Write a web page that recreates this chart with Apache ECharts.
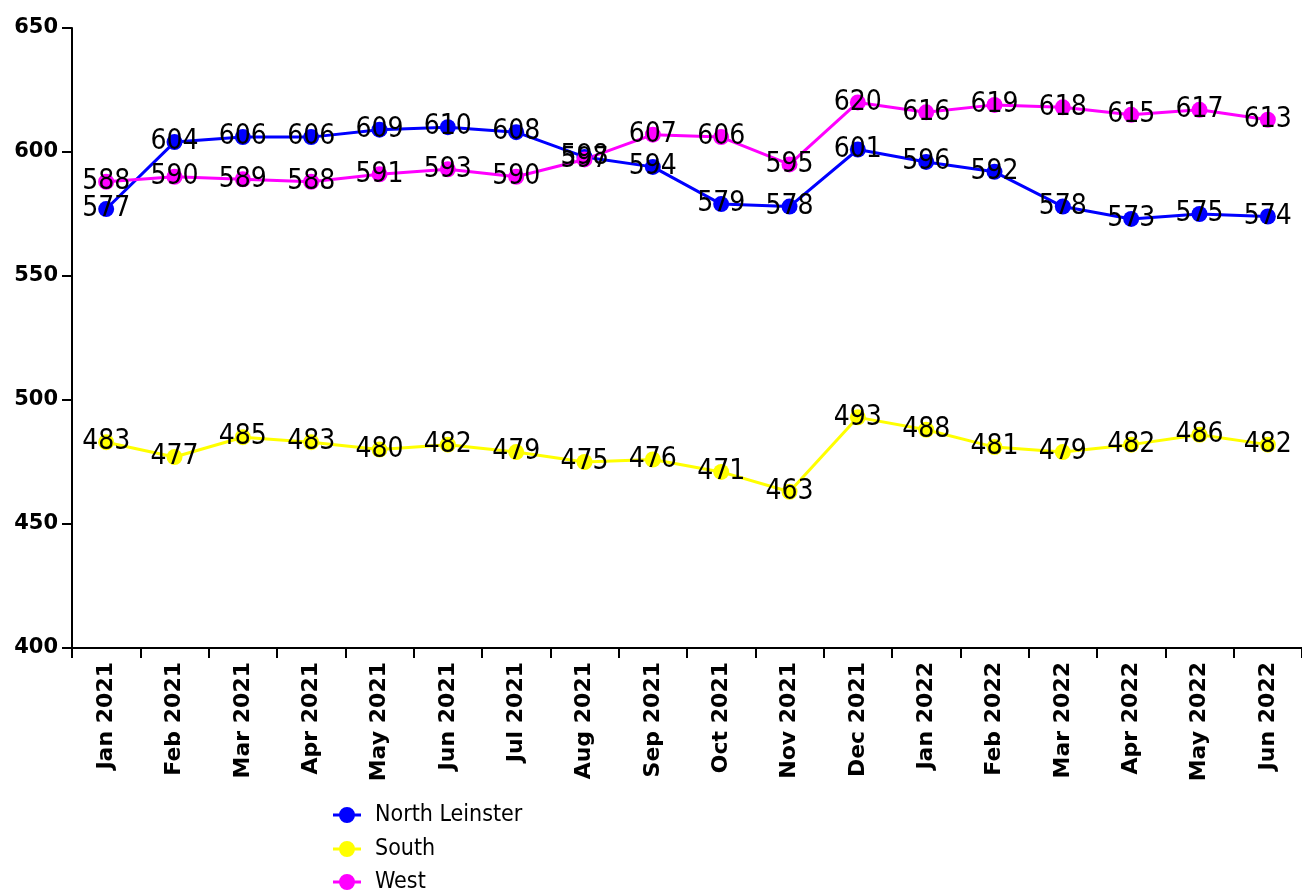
<!DOCTYPE html>
<html>
<head>
<meta charset="utf-8">
<script src="https://cdn.jsdelivr.net/npm/echarts@6/dist/echarts.min.js"></script>
<style>
html,body{margin:0;padding:0;background:#fff;}
#chart{width:1302px;height:892px;}
</style>
</head>
<body>
<div id="chart"></div>
<script>
const categories = ['Jan 2021','Feb 2021','Mar 2021','Apr 2021','May 2021','Jun 2021','Jul 2021','Aug 2021','Sep 2021','Oct 2021','Nov 2021','Dec 2021','Jan 2022','Feb 2022','Mar 2022','Apr 2022','May 2022','Jun 2022'];
const northLeinster = [577,604,606,606,609,610,608,598,594,579,578,601,596,592,578,573,575,574];
const south = [483,477,485,483,480,482,479,475,476,471,463,493,488,481,479,482,486,482];
const west = [588,590,589,588,591,593,590,597,607,606,595,620,616,619,618,615,617,613];
const seriesNames = ['North Leinster','South','West'];
const yTicks = [400,450,500,550,600,650];

const labelFont = "'DejaVu Sans Condensed','DejaVu Sans',sans-serif";
const boldFont = "'DejaVu Sans','Verdana',sans-serif";

function mkSeries(name, data, color) {
  return {
    name: name,
    type: 'line',
    data: data,
    symbol: 'circle',
    symbolSize: 16,
    itemStyle: { color: color },
    lineStyle: { color: color, width: 3 },
    label: {
      show: true,
      position: 'inside',
      color: '#000',
      fontFamily: labelFont,
      fontSize: 28
    },
    emphasis: { disabled: true },
    animation: false
  };
}

const legendIcon = 'path://M0,6.5H28V9.5H0Z M22,8A8,8 0 1,1 6,8A8,8 0 1,1 22,8Z';
const legendCenters = [815, 849, 882];
const legends = seriesNames.map(function (n, i) {
  return {
    orient: 'vertical',
    left: 333,
    top: legendCenters[i] - 12,
    itemWidth: 28,
    itemHeight: 16,
    icon: legendIcon,
    padding: 0,
    textStyle: { fontFamily: labelFont, fontSize: 23, color: '#000', lineHeight: 24, padding: [0,0,0,9] },
    data: [n]
  };
});

const chart = echarts.init(document.getElementById('chart'));
chart.setOption({
  backgroundColor: '#fff',
  animation: false,
  grid: { left: 72, top: 28, width: 1242, height: 620, containLabel: false },
  legend: legends,
  xAxis: {
    type: 'category',
    data: categories,
    boundaryGap: true,
    axisLine: { lineStyle: { color: '#000', width: 2 } },
    axisTick: { show: true, length: 10, alignWithLabel: false, lineStyle: { color: '#000', width: 2 } },
    axisLabel: {
      rotate: 90,
      interval: 0,
      margin: 14,
      color: '#000',
      fontFamily: boldFont,
      fontWeight: 'bold',
      fontSize: 22
    }
  },
  yAxis: {
    type: 'value',
    min: yTicks[0],
    max: yTicks[yTicks.length - 1],
    interval: 50,
    splitLine: { show: false },
    axisLine: { show: true, lineStyle: { color: '#000', width: 2 } },
    axisTick: { show: true, length: 10, lineStyle: { color: '#000', width: 2 } },
    axisLabel: {
      margin: 14,
      color: '#000',
      fontFamily: boldFont,
      fontWeight: 'bold',
      fontSize: 21
    }
  },
  series: [
    mkSeries(seriesNames[0], northLeinster, '#0000ff'),
    mkSeries(seriesNames[1], south, '#ffff00'),
    mkSeries(seriesNames[2], west, '#ff00ff')
  ]
});
</script>
</body>
</html>
